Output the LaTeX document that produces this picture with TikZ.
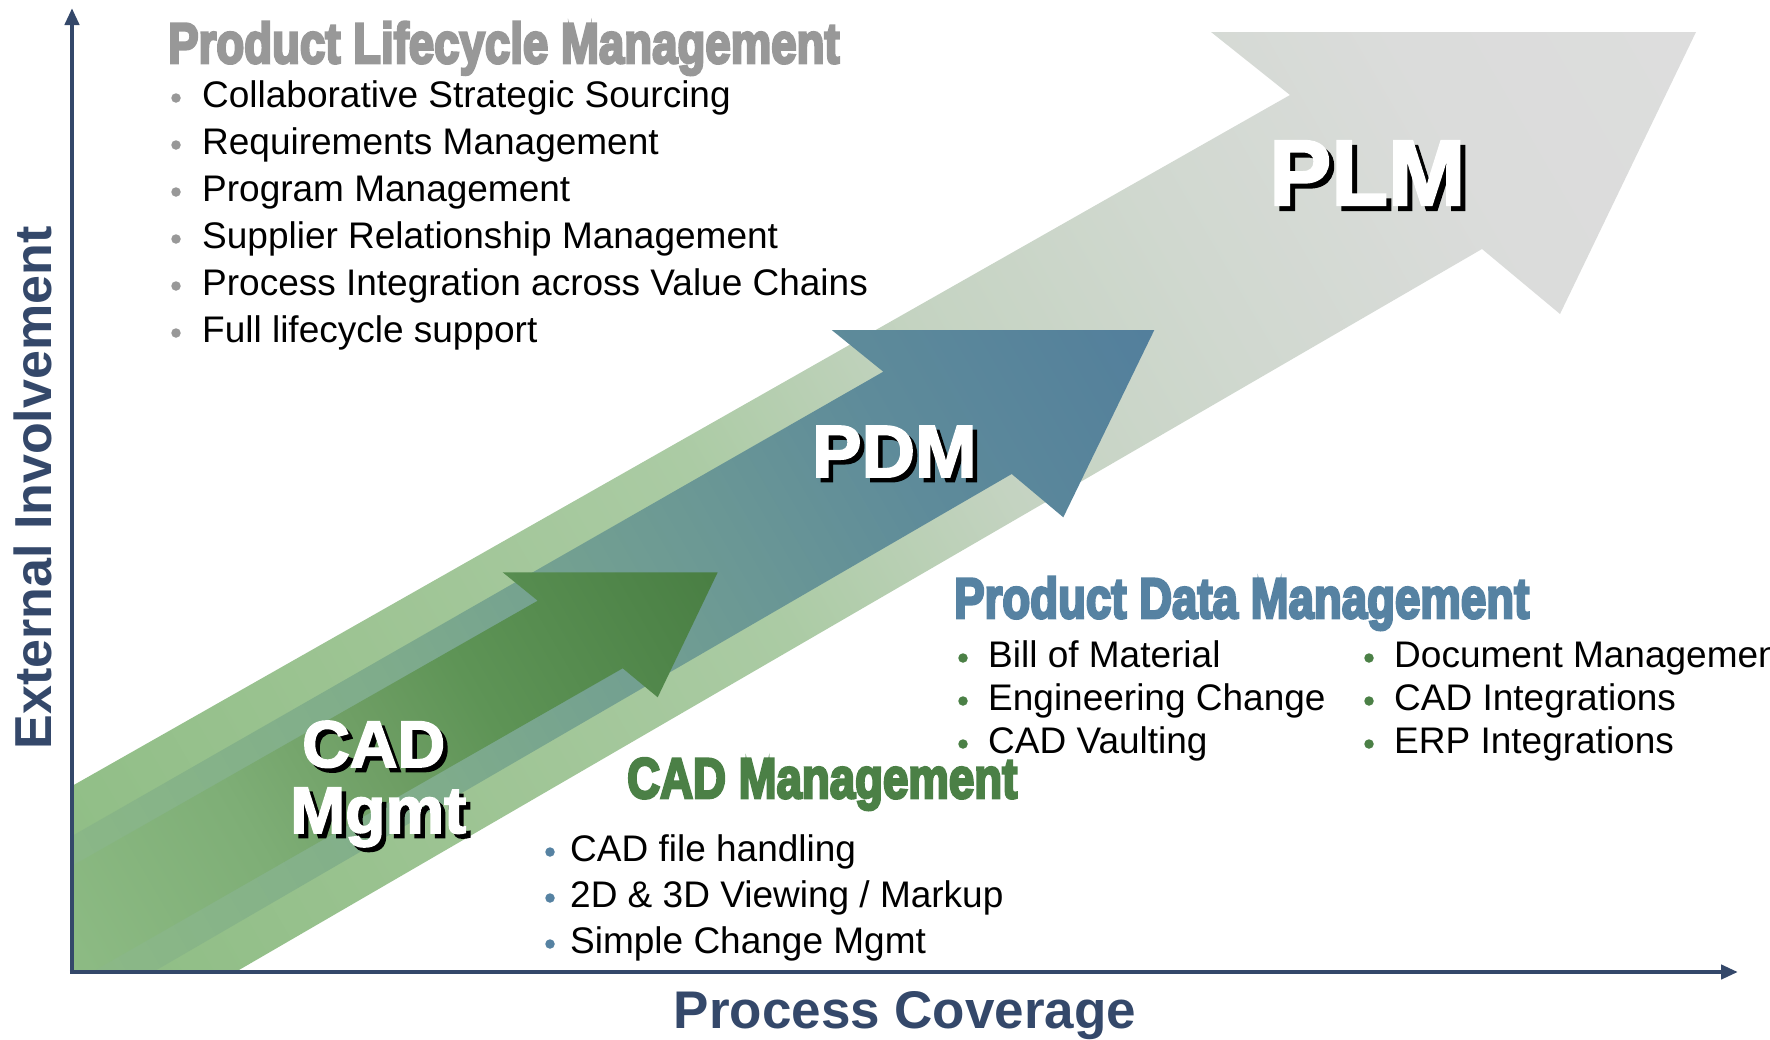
\documentclass[tikz,border=0pt]{standalone}
\usepackage{fontspec}
\setmainfont{Liberation Sans}
\usetikzlibrary{arrows.meta}
\definecolor{axisblue}{HTML}{34486A}
\definecolor{plmgray}{HTML}{989898}
\definecolor{pdmblue}{HTML}{5682A2}
\definecolor{cadgreen}{HTML}{4B8046}
% PLM stops
\definecolor{pa}{HTML}{8EBD84}\definecolor{pb}{HTML}{9DC493}\definecolor{pc}{HTML}{ABCBA4}
\definecolor{pd}{HTML}{C4D3C1}\definecolor{pe}{HTML}{D0D8CF}\definecolor{pf}{HTML}{DBDCDB}\definecolor{pg}{HTML}{DDDDDD}
% PDM stops
\definecolor{da}{HTML}{8CB986}\definecolor{db}{HTML}{7FAC8B}\definecolor{dc}{HTML}{6A9795}
\definecolor{dd}{HTML}{5E8B9A}\definecolor{de}{HTML}{527E9C}\definecolor{df}{HTML}{517D9D}
% CAD stops
\definecolor{ca}{HTML}{8DBB84}\definecolor{cb}{HTML}{7EAE76}\definecolor{cc}{HTML}{6E9E64}
\definecolor{cd}{HTML}{5E9456}\definecolor{ce}{HTML}{4F8549}\definecolor{cf}{HTML}{4A7F44}
\pgfdeclarehorizontalshading{plmshade}{100bp}{color(0bp)=(pa); color(25bp)=(pa); color(36bp)=(pb); color(46bp)=(pc); color(53bp)=(pd); color(60bp)=(pe); color(68bp)=(pf); color(75bp)=(pg); color(100bp)=(pg)}
\pgfdeclarehorizontalshading{pdmshade}{100bp}{color(0bp)=(da); color(25bp)=(da); color(36bp)=(db); color(46bp)=(dc); color(51bp)=(dd); color(59bp)=(de); color(75bp)=(df); color(100bp)=(df)}
\pgfdeclarehorizontalshading{cadshade}{100bp}{color(0bp)=(ca); color(25bp)=(ca); color(31bp)=(cb); color(35bp)=(cc); color(38bp)=(cd); color(43bp)=(ce); color(45bp)=(cf); color(100bp)=(cf)}
\newcommand\ttltext[1]{\scalebox{0.8}[1]{\fontsize{57}{60}\selectfont\bfseries\addfontfeatures{FakeBold=5}#1}}
\newcommand\shadowtext[2]{\makebox[0pt][l]{\hspace{#1}\raisebox{-#1}{\textcolor{black}{#2}}}\textcolor{white}{#2}}
\newcommand\lblfont[1]{\bfseries\fontsize{#1}{#1}\selectfont\addfontfeatures{FakeBold=2.5}}
\begin{document}
\begin{tikzpicture}[x=1pt,y=-1pt,
  txt/.style={anchor=base west,inner sep=0pt,font=\fontsize{37}{44}\selectfont},
  ttl/.style={anchor=base west,inner sep=0pt},
  dot/.style={circle,inner sep=0pt,minimum size=9.5pt},
  biglabel/.style={anchor=base west,inner sep=0pt},
  axisline/.style={line width=4.5pt,draw=axisblue,-{Triangle[length=17pt,width=14pt]}},
  shadesquare/.style={shading angle=30}
]
\useasboundingbox (0,0) rectangle (1770,1039);

% PLM arrow
\begin{scope}
\clip (72,786) -- (1290,95) -- (1211,32) -- (1696,32) -- (1560,314) -- (1482,249) -- (239,970) -- (72,970) -- cycle;
\shade[shading=plmshade,shadesquare] (-79,-475) rectangle (1811,1415);
\end{scope}
% PDM arrow
\begin{scope}
\clip (72,836) -- (883.3,371.7) -- (831.7,330) -- (1154.3,330) -- (1063.3,517.3) -- (1011.7,474) -- (156.5,970) -- (72,970) -- cycle;
\shade[shading=pdmshade,shadesquare] (-79,-475) rectangle (1811,1415);
\end{scope}
% CAD arrow
\begin{scope}
\clip (72,866) -- (537.7,600.7) -- (502.7,572.3) -- (717.7,572.3) -- (657.7,697.3) -- (622.7,668.3) -- (95.3,970) -- (72,970) -- cycle;
\shade[shading=cadshade,shadesquare] (-79,-475) rectangle (1811,1415);
\end{scope}

% arrow labels
\node[biglabel,font=\lblfont{93}] (plm) at (1269,205) {\shadowtext{5pt}{PLM}};
\node[biglabel,font=\lblfont{74}] (pdm) at (812,477) {\shadowtext{4.5pt}{PDM}};
\node[biglabel,font=\lblfont{66}] (cad) at (302,767) {\shadowtext{4.5pt}{CAD}};
\node[biglabel,font=\lblfont{66}] (mgmt) at (290,833) {\shadowtext{4.5pt}{Mgmt}};

% PLM text
\node[ttl,text=plmgray] (plmtitle) at (168,63) {\ttltext{Product Lifecycle Management}};
\foreach \t [count=\i] in {Collaborative Strategic Sourcing,Requirements Management,Program Management,Supplier Relationship Management,Process Integration across Value Chains,Full lifecycle support}{
  \node[dot,fill=plmgray] (plmb\i) at (176,{107+47*(\i-1)-9}) {};
  \node[txt] (plmt\i) at (202,{107+47*(\i-1)}) {\t};
}

% PDM text
\node[ttl,text=pdmblue] (pdmtitle) at (954,618) {\ttltext{Product Data Management}};
\foreach \t [count=\i] in {Bill of Material,Engineering Change,CAD Vaulting}{
  \node[dot,fill=cadgreen] (pdmb\i) at (963,{667+43*(\i-1)-9}) {};
  \node[txt] (pdmt\i) at (988,{667+43*(\i-1)}) {\t};
}
\foreach \t [count=\i] in {Document Management,CAD Integrations,ERP Integrations}{
  \node[dot,fill=cadgreen] (pdmc\i) at (1369,{667+43*(\i-1)-9}) {};
  \node[txt] (pdmu\i) at (1394,{667+43*(\i-1)}) {\t};
}

% CAD text
\node[ttl,text=cadgreen] (cadtitle) at (627,798) {\ttltext{CAD Management}};
\foreach \t [count=\i] in {CAD file handling,2D \& 3D Viewing / Markup,Simple Change Mgmt}{
  \node[dot,fill=pdmblue] (cadb\i) at (550,{861+46*(\i-1)-9}) {};
  \node[txt] (cadt\i) at (570,{861+46*(\i-1)}) {\t};
}

% axes
\coordinate (origin) at (72,972);
\coordinate (ytip) at (72,8);
\coordinate (xtip) at (1738,972);
\draw[axisline] (origin) -- (ytip);
\draw[axisline] ([xshift=-2.25pt]origin) -- (xtip);

\node[rotate=90,inner sep=0pt,text=axisblue,font=\bfseries\fontsize{52}{56}\selectfont] (ylab) at (33,488) {External Involvement};
\node[anchor=base,inner sep=0pt,text=axisblue,font=\bfseries\fontsize{53}{56}\selectfont] (xlab) at (905,1028) {Process Coverage};
\end{tikzpicture}
\end{document}
